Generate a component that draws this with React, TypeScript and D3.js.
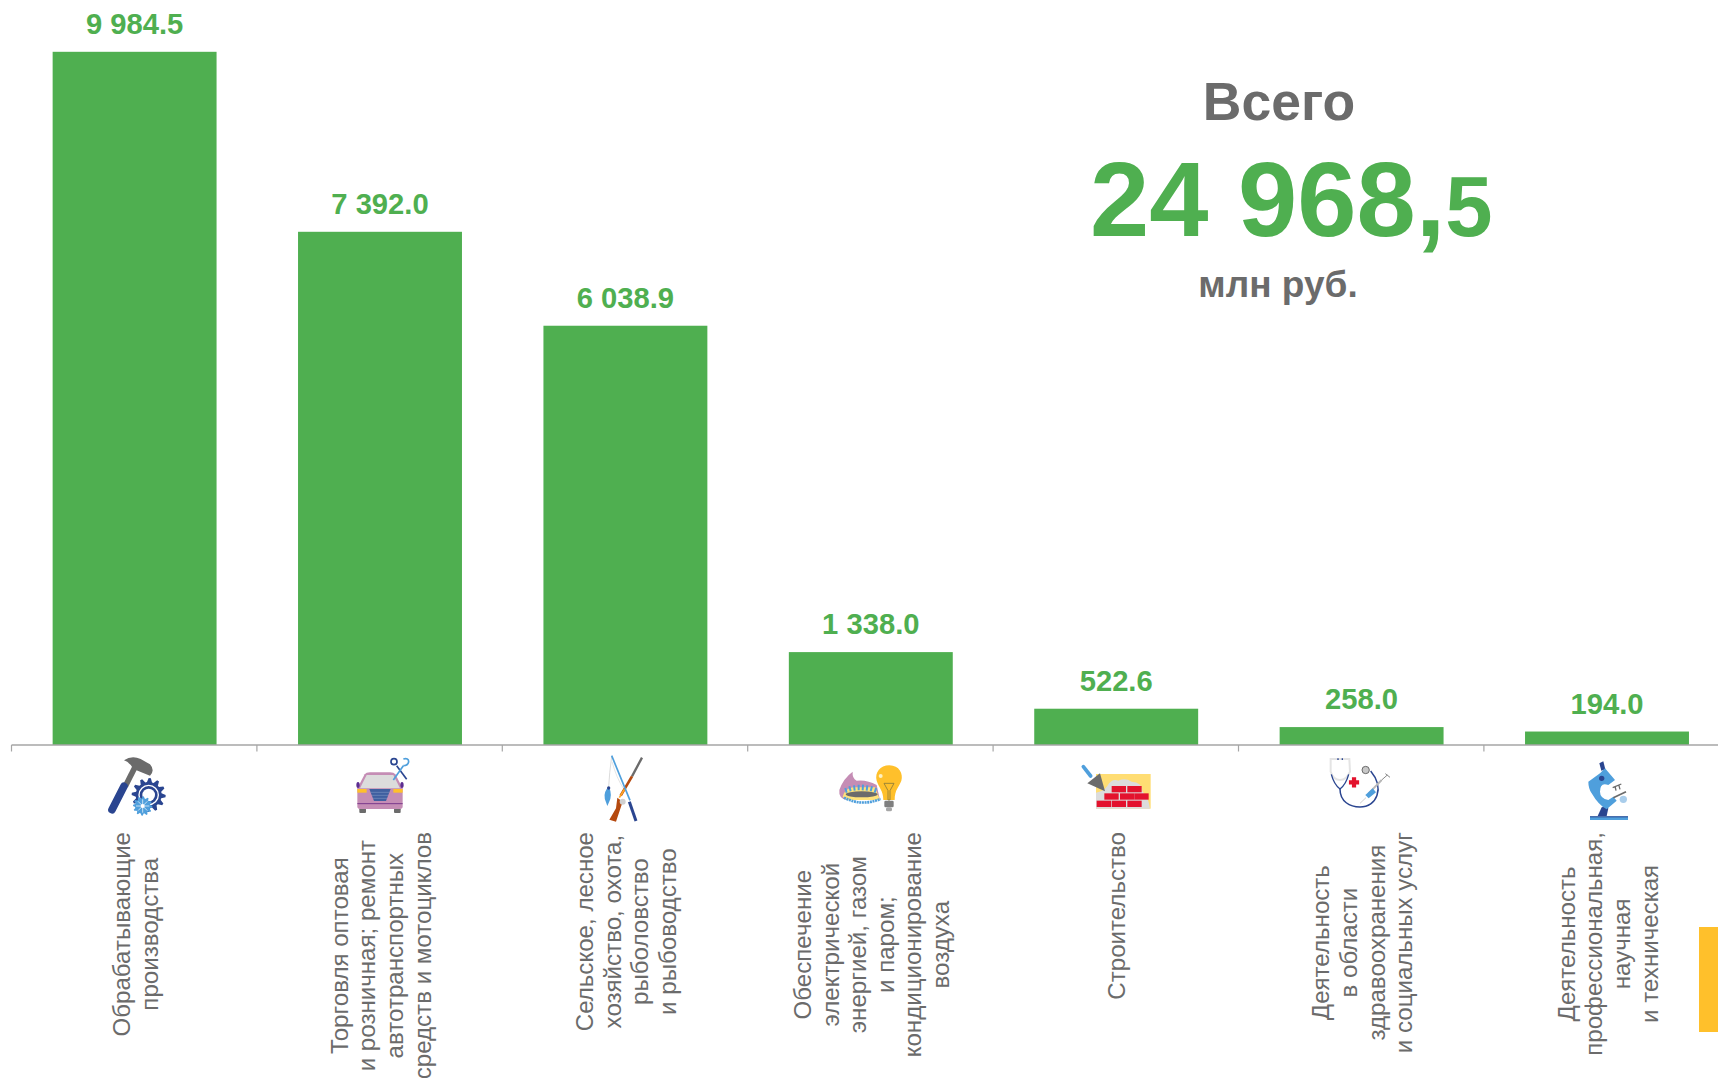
import React from "react";
import * as d3 from "d3";

const categories = [
  "Обрабатывающие производства",
  "Торговля оптовая и розничная; ремонт автотранспортных средств и мотоциклов",
  "Сельское, лесное хозяйство, охота, рыболовство и рыбоводство",
  "Обеспечение электрической энергией, газом и паром; кондиционирование воздуха",
  "Строительство",
  "Деятельность в области здравоохранения и социальных услуг",
  "Деятельность профессиональная, научная и техническая",
];
const values = [9984.5, 7392.0, 6038.9, 1338.0, 522.6, 258.0, 194.0];
const valueLabels = ["9 984.5", "7 392.0", "6 038.9", "1 338.0", "522.6", "258.0", "194.0"];
const categoryLines = [
  ["Обрабатывающие", "производства"],
  ["Торговля оптовая", "и розничная; ремонт", "автотранспортных", "средств и мотоциклов"],
  ["Сельское, лесное", "хозяйство, охота,", "рыболовство", "и рыбоводство"],
  ["Обеспечение", "электрической", "энергией, газом", "и паром;", "кондиционирование", "воздуха"],
  ["Строительство"],
  ["Деятельность", "в области", "здравоохранения", "и социальных услуг"],
  ["Деятельность", "профессиональная,", "научная", "и техническая"],
];
const totalTitle = "Всего";
const totalMain = "24 968,";
const totalDecimal = "5";
const totalUnit = "млн руб.";

const GREEN = "#4FAF50";
const GREY = "#6B6B6B";
const AXIS = "#A6A6A6";
const FONT = "'Liberation Sans', Arial, sans-serif";
const LABEL_SIZE = 24.1;
const LINE_PITCH = 27.6;
const LABEL_TOP = 832;

function gear(cx: number, cy: number, r: number, teeth: number, depth: number) {
  const pts: [number, number][] = [];
  const n = teeth * 4;
  for (let i = 0; i < n; i++) {
    const a = (i / n) * Math.PI * 2;
    const rr = i % 4 < 2 ? r + depth : r;
    pts.push([cx + rr * Math.cos(a), cy + rr * Math.sin(a)]);
  }
  return d3.line()(pts) + "Z";
}

const Hammer = () => (
  <g>
    <path d="M137,62 L106,124" stroke="#6B6B6B" strokeWidth="17" fill="none" />
    <path d="M66,194 L102,124" stroke="#2A4590" strokeWidth="23" strokeLinecap="round" fill="none" />
    <path d="M102,46 Q125,30 152,42 L180,58 Q196,76 180,92 L130,72 Q122,54 102,46Z" fill="#6B6B6B" />
    <path d={gear(176, 150, 39, 12, 12)} fill="#2A4590" />
    <circle cx="176" cy="150" r="29" fill="none" stroke="#fff" strokeWidth="4" />
    <circle cx="176" cy="150" r="19" fill="#fff" />
    <path d={gear(158, 183, 23, 12, 6)} fill="#4F9FDC" />
    <circle cx="158" cy="183" r="6" fill="#fff" />
    <path d="M138,183 H178 M158,163 V203 M144,169 L172,197 M172,169 L144,197" stroke="#fff" strokeWidth="2" />
  </g>
);
const Car = () => (
  <g>
    <rect x="58" y="190" width="20" height="14" rx="3" fill="#6B6B6B" />
    <rect x="162" y="190" width="20" height="14" rx="3" fill="#6B6B6B" />
    <path d="M52,130 L74,88 Q78,82 90,82 L150,82 Q162,82 166,88 L188,130 V184 Q188,192 180,192 H60 Q52,192 52,184Z" fill="#C58DB5" />
    <path d="M60,130 L80,90 H160 L180,130Z" fill="#DCDCDC" />
    <ellipse cx="54" cy="120" rx="5" ry="9" fill="#5C2D91" />
    <ellipse cx="186" cy="120" rx="5" ry="9" fill="#5C2D91" />
    <rect x="52" y="132" width="28" height="11" fill="#FFC02B" />
    <rect x="160" y="132" width="28" height="11" fill="#FFC02B" />
    <path d="M88,132 H152 L138,168 H102Z" fill="#3F5FA0" />
    <path d="M92,142 H148 M96,151 H144 M99,160 H141" stroke="#88A0C8" strokeWidth="1.5" />
    <path d="M52,176 H188" stroke="#7A3A8C" strokeWidth="3" />
    <path d="M170,62 L200,103" stroke="#2A4590" strokeWidth="5" fill="none" />
    <path d="M190,62 L160,105" stroke="#4F9FDC" strokeWidth="5" fill="none" />
    <circle cx="162" cy="50" r="9" fill="none" stroke="#2A4590" strokeWidth="5" />
    <path d="M190,42 Q206,38 206,50 Q204,62 190,62" fill="none" stroke="#4F9FDC" strokeWidth="5" />
  </g>
);
const FishingGun = () => (
  <g>
    <path d="M95,34 Q88,85 86,125" stroke="#C8C8C8" strokeWidth="2" fill="none" />
    <path d="M96,50 Q110,100 130,130" stroke="#D8D8D8" strokeWidth="2" fill="none" />
    <path d="M186,38 L156,94" stroke="#6B6B6B" strokeWidth="7" fill="none" />
    <path d="M156,94 L122,152" stroke="#B5490F" strokeWidth="8" fill="none" />
    <path d="M134,132 L118,158" stroke="#FFA726" strokeWidth="5" fill="none" />
    <path d="M112,158 L128,170 L108,230 L88,224 L108,190Z" fill="#B5490F" />
    <path d="M95,32 L150,166" stroke="#4F9FDC" strokeWidth="5" fill="none" />
    <path d="M148,170 L168,228" stroke="#2A4590" strokeWidth="9" fill="none" />
    <circle cx="128" cy="170" r="9" fill="#D0D0D0" />
    <path d="M87,126 Q98,150 87,172 L82,183 L78,172 Q68,150 80,132Z" fill="#4F9FDC" />
    <circle cx="86" cy="129" r="5" fill="#2A4590" />
  </g>
);
const BurnerBulb = () => (
  <g>
    <path d="M28,120 Q40,85 68,65 Q66,85 80,92 Q110,88 140,105 L150,150 H50 Q25,145 28,120Z" fill="#C58DB5" />
    <path d="M38,140 Q45,115 70,112 L135,112 L150,150 H50Z" fill="#FFE27A" />
    <ellipse cx="95" cy="133" rx="48" ry="9" fill="#6B6B6B" />
    <path d="M50,128 L46,114 M62,124 L58,109 M74,122 L72,106 M86,121 L86,104 M98,121 L99,104 M110,122 L112,106 M122,124 L126,109 M134,128 L138,114" stroke="#4F9FDC" strokeWidth="6" />
    <path d="M42,143 Q95,170 152,147" stroke="#4F9FDC" strokeWidth="8" strokeDasharray="6 2" fill="none" />
    <path d="M178,46 C208,46 220,72 214,92 C208,110 194,118 194,150 H160 C160,122 146,112 140,92 C134,68 150,46 178,46Z" fill="#FFC02B" />
    <path d="M162,100 H192 L180,122 V150 H174 V122Z" fill="none" stroke="#8A7A3A" strokeWidth="2.5" />
    <circle cx="152" cy="78" r="6" fill="#FFF1C0" />
    <rect x="163" y="152" width="28" height="20" rx="4" fill="#7F7F7F" />
    <rect x="168" y="172" width="18" height="12" rx="5" fill="#A6A6A6" />
  </g>
);
const Bricks = () => (
  <g>
    <rect x="78" y="72" width="164" height="104" fill="#FFDD73" />
    <path d="M78,176 V128 Q100,125 112,108 Q125,85 145,92 Q165,82 185,95 Q215,95 218,125 Q235,140 240,176Z" fill="#DCDCDC" />
    {[
      [125, 108], [172, 108], [103, 130], [150, 130], [193, 130], [80, 152], [125, 152], [172, 152],
    ].map(([x, y], i) => (
      <rect key={i} x={x} y={y} width="43" height="19" fill="#E3122D" />
    ))}
    <path d="M40,50 L62,78" stroke="#4F9FDC" strokeWidth="11" strokeLinecap="round" />
    <path d="M90,70 L52,100 L105,124Z" fill="#6B6B6B" />
  </g>
);
const Stethoscope = () => (
  <g>
    <path d="M62,42 H118 L120,80 Q110,105 90,105 Q70,105 62,80Z" fill="none" stroke="#E4E4E4" strokeWidth="6" />
    <path d="M84,40 V45 M97,40 V45" stroke="#2A4590" strokeWidth="4" />
    <path d="M64,88 Q72,118 90,132 Q108,118 116,88" fill="none" stroke="#2A4590" strokeWidth="4" />
    <path d="M90,132 C90,170 120,186 150,186 C200,186 225,130 182,78" fill="none" stroke="#2A4590" strokeWidth="4.5" />
    <circle cx="167" cy="75" r="11" fill="#C8C8C8" stroke="#6B6B6B" strokeWidth="3" />
    <path d="M146,102 H136 V92 H122 V102 H112 V116 H122 V126 H136 V116 H146Z" transform="translate(16,14) scale(0.9)" fill="#E3122D" />
    <path d="M176,145 L215,105" stroke="#B8B8B8" strokeWidth="6" />
    <path d="M215,105 L232,90 M226,86 L240,97" stroke="#8A8A8A" strokeWidth="3" />
    <path d="M166,150 L188,130 L198,142 L176,160Z" fill="#4F9FDC" />
    <path d="M168,158 L150,175" stroke="#D0D0D0" strokeWidth="3" />
  </g>
);
const Microscope = () => (
  <g>
    <rect x="90" y="199" width="114" height="11" fill="#4F9FDC" />
    <rect x="90" y="199" width="114" height="3" fill="#2A4590" />
    <path d="M113,198 L125,172 Q135,168 145,175 L140,198Z" fill="#2A4590" />
    <path d="M118,40 L130,34 L136,58 L124,62Z" fill="#2A4590" />
    <path d="M85,95 L120,70 L135,55 L165,90 L145,105 Q120,95 120,125 Q120,145 145,150 L160,140 L170,152 L140,178 Q115,165 95,130 Q85,115 85,95Z" fill="#4F9FDC" />
    <circle cx="125" cy="85" r="8" fill="#2A4590" />
    <path d="M158,113 L184,102 M165,108 L168,122 M176,104 L180,118" stroke="#6B6B6B" strokeWidth="4" />
    <path d="M160,143 L198,125" stroke="#6B6B6B" strokeWidth="5" />
    <circle cx="190" cy="148" r="11" fill="#A9CDEB" />
  </g>
);
const icons = [Hammer, Car, FishingGun, BurnerBulb, Bricks, Stethoscope, Microscope];
const iconOrigins: [number, number][] = [
  [90, 745], [340, 745], [580, 745], [830, 750], [1070, 750], [1310, 745], [1560, 750],
];

function textWidth(s: string, font: string) {
  const ctx = document.createElement("canvas").getContext("2d")!;
  ctx.font = font;
  return ctx.measureText(s).width;
}

export default function App() {
  const x = d3
    .scaleBand<number>()
    .domain(d3.range(values.length))
    .range([11.9, 11.9 + 245.4 * values.length])
    .paddingInner(0.332)
    .paddingOuter(0.166);
  const y = d3.scaleLinear().domain([0, 9984.5]).range([745, 51.8]);
  const ticks = d3.range(values.length + 1).map((i) => 11.5 + i * x.step());
  const labelFont = `${LABEL_SIZE}px 'Liberation Sans'`;

  return (
    <svg
      width={1718}
      height={1078}
      viewBox="0 0 1718 1078"
      style={{ position: "absolute", left: 0, top: 0, display: "block", background: "#fff" }}
      fontFamily={FONT}
    >
      {values.map((v, i) => (
        <rect key={i} x={x(i)} y={y(v)} width={x.bandwidth()} height={y(0) - y(v)} fill={GREEN} />
      ))}
      <line x1={11.5} x2={1718} y1={745} y2={745} stroke={AXIS} strokeWidth={1.5} />
      {ticks.map((t, i) => (
        <line key={i} x1={t} x2={t} y1={745} y2={751.5} stroke={AXIS} strokeWidth={1.2} />
      ))}
      {values.map((v, i) => (
        <text
          key={i}
          x={x(i)! + x.bandwidth() / 2}
          y={y(v) - 18}
          textAnchor="middle"
          fontWeight="bold"
          fontSize={29.2}
          fill={GREEN}
        >
          {valueLabels[i]}
        </text>
      ))}
      {categoryLines.map((lines, i) => {
        const cx = x(i)! + x.bandwidth() / 2 + 0.6;
        const maxW = d3.max(lines, (l) => textWidth(l, labelFont))!;
        const midY = LABEL_TOP + maxW / 2;
        return (
          <g key={i} aria-label={categories[i]}>
            {lines.map((l, j) => {
              const lx = cx + (j - (lines.length - 1) / 2) * LINE_PITCH;
              return (
                <text
                  key={j}
                  transform={`translate(${lx},${midY}) rotate(-90)`}
                  textAnchor="middle"
                  dominantBaseline="central"
                  fontSize={LABEL_SIZE}
                  fill={GREY}
                >
                  {l}
                </text>
              );
            })}
          </g>
        );
      })}
      {icons.map((Icon, i) => (
        <g key={i} transform={`translate(${iconOrigins[i][0]},${iconOrigins[i][1]}) scale(${1 / 3})`}>
          <Icon />
        </g>
      ))}
      <text x={1279} y={120} textAnchor="middle" fontWeight="bold" fontSize={53.5} fill={GREY}>
        {totalTitle}
      </text>
      <text x={1090} y={236} fontWeight="bold" fontSize={106.5} fill={GREEN}>
        <tspan>{totalMain}</tspan>
        <tspan fontSize={85}>{totalDecimal}</tspan>
      </text>
      <text x={1278} y={297} textAnchor="middle" fontWeight="bold" fontSize={37} fill={GREY}>
        {totalUnit}
      </text>
      <rect x={1699} y={927} width={19} height={105} fill="#FFC02B" />
    </svg>
  );
}
